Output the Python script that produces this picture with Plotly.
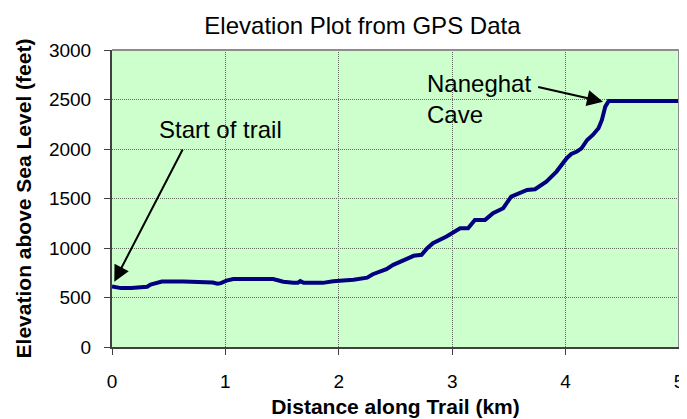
import plotly.graph_objects as go

# Distance along trail (km) and elevation (feet)
distance_km = [0.00, 0.05, 0.08, 0.17, 0.28, 0.31, 0.34, 0.40, 0.44, 0.63, 0.80, 0.89,
               0.93, 0.96, 1.01, 1.07, 1.20, 1.42, 1.47, 1.51, 1.60, 1.64, 1.66, 1.69,
               1.86, 1.95, 2.13, 2.25, 2.30, 2.36, 2.42, 2.48, 2.57, 2.66, 2.73, 2.78,
               2.83, 2.95, 3.07, 3.14, 3.20, 3.29, 3.36, 3.45, 3.52, 3.57, 3.66, 3.73,
               3.83, 3.92, 4.01, 4.05, 4.10, 4.14, 4.19, 4.24, 4.29, 4.32, 4.35, 4.38, 5.00]
elevation_ft = [612, 600, 595, 595, 600, 608, 630, 650, 662, 662, 660, 652,
                640, 645, 670, 686, 686, 686, 672, 659, 650, 650, 665, 648,
                648, 665, 680, 700, 735, 760, 787, 830, 881, 921, 931, 998,
                1049, 1116, 1200, 1200, 1284, 1284, 1351, 1402, 1519, 1547, 1587, 1594,
                1671, 1772, 1907, 1950, 1974, 2007, 2091, 2142, 2209, 2293, 2428, 2485, 2485]

x_ticks = [0, 1, 2, 3, 4, 5]
y_ticks = [0, 500, 1000, 1500, 2000, 2500, 3000]

# Annotation anchors (data coordinates)
start_label = "Start of trail"
start_text_pos = (0.40, 2195)
start_arrow_tail = (0.63, 2010)
start_arrow_head = (0.02, 660)

cave_label = "Naneghat<br>Cave"
cave_text_pos = (2.76, 2510)
cave_arrow_tail = (3.745, 2630)
cave_arrow_head = (4.33, 2478)

FONT = "Arial, Liberation Sans, sans-serif"

fig = go.Figure()
fig.add_trace(go.Scatter(
    x=distance_km, y=elevation_ft, mode="lines",
    line=dict(color="#000080", width=4), showlegend=False, hoverinfo="skip"))

# the page body adds an 8px offset, so the figure is 8px smaller on each side
fig.update_layout(
    width=679, height=411,
    margin=dict(l=104, r=8, t=42, b=72, autoexpand=False),
    paper_bgcolor="white",
    plot_bgcolor="#CCFFCC",
    font=dict(family=FONT, color="black"),
    title=dict(text="Elevation Plot from GPS Data", x=0.522, xanchor="center",
               y=0.956, yanchor="middle", font=dict(size=24, color="black"),
               automargin=False),
    showlegend=False,
)

fig.update_xaxes(
    range=[0, 5], tickvals=x_ticks, ticktext=[str(v) for v in x_ticks],
    ticks="outside", ticklen=6, tickcolor="#404040", tickwidth=1,
    showline=True, linecolor="#404040", linewidth=2,
    showgrid=True, gridcolor="#5f6a5f", gridwidth=1, griddash="1px,1px",
    zeroline=False, tickfont=dict(size=19, color="black"), ticklabelstandoff=10,
    automargin=False,
    title=dict(text="<b>Distance along Trail (km)</b>", font=dict(size=21, color="black"), standoff=9),
)
fig.update_yaxes(
    range=[0, 3000], tickvals=y_ticks, ticktext=[str(v) for v in y_ticks],
    ticks="outside", ticklen=6, tickcolor="#404040", tickwidth=1,
    showline=True, linecolor="#404040", linewidth=2,
    showgrid=True, gridcolor="#5f6a5f", gridwidth=1, griddash="1px,1px",
    zeroline=False, tickfont=dict(size=19, color="black"), ticklabelstandoff=9,
    automargin=False,
    title=dict(text="<b>Elevation above Sea Level (feet)</b>", font=dict(size=21, color="black"), standoff=12),
)

# gray border top/right
fig.add_shape(type="line", xref="x domain", yref="y domain", x0=0, x1=1, y0=1, y1=1,
              line=dict(color="#8c8c8c", width=2))
fig.add_shape(type="line", xref="x domain", yref="y domain", x0=1, x1=1, y0=0, y1=1,
              line=dict(color="#8c8c8c", width=2))

# Text labels
fig.add_annotation(x=start_text_pos[0], y=start_text_pos[1], text=start_label,
                   showarrow=False, xanchor="left", yanchor="middle",
                   font=dict(size=24, color="black"))
fig.add_annotation(x=cave_text_pos[0], y=cave_text_pos[1], text=cave_label, align="left",
                   showarrow=False, xanchor="left", yanchor="middle",
                   font=dict(size=24, color="black"))
# Arrows
for tail, head in [(start_arrow_tail, start_arrow_head), (cave_arrow_tail, cave_arrow_head)]:
    fig.add_annotation(x=head[0], y=head[1], ax=tail[0], ay=tail[1],
                       xref="x", yref="y", axref="x", ayref="y", text="",
                       showarrow=True, arrowhead=2, arrowsize=1.6, arrowwidth=2,
                       arrowcolor="black")

fig.write_html("out.html")
